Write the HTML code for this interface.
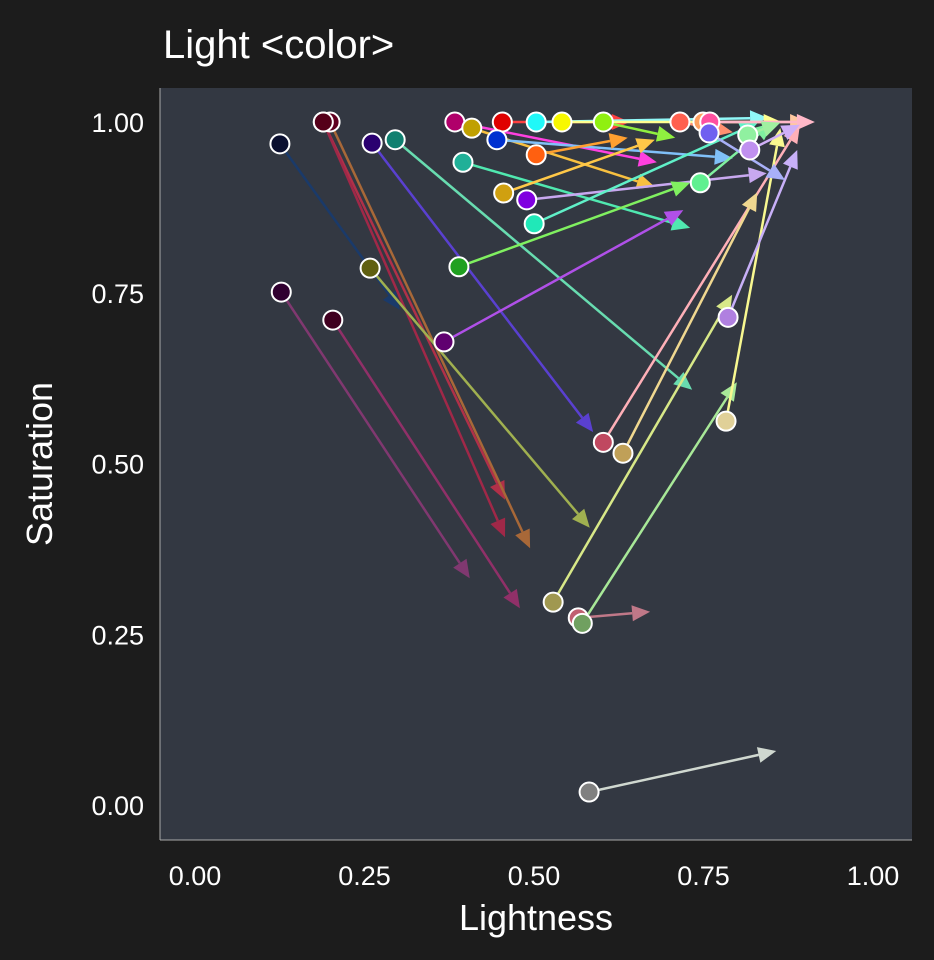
<!DOCTYPE html>
<html><head><meta charset="utf-8"><style>
html,body{margin:0;padding:0;background:#1c1c1c;}
svg{display:block;font-family:"Liberation Sans",sans-serif;}
</style></head><body>
<svg id="chart" width="934" height="960" xmlns="http://www.w3.org/2000/svg">
<rect x="0" y="0" width="934" height="960" fill="#1c1c1c"/>
<text x="163" y="58" fill="#ffffff" font-size="40">Light &lt;color&gt;</text>
<rect x="160" y="88" width="752" height="752" fill="#333842"/>
<line x1="160" y1="88" x2="160" y2="840" stroke="#aaaaaa" stroke-width="1"/>
<line x1="160" y1="840" x2="912" y2="840" stroke="#aaaaaa" stroke-width="1"/>
<g id="ticks"></g>
<g id="lines"></g>
<g id="points"></g>
<text x="536" y="930" fill="#ffffff" font-size="36" text-anchor="middle">Lightness</text>
<text transform="translate(52,464) rotate(-90)" fill="#ffffff" font-size="36" text-anchor="middle">Saturation</text>
</svg>
<script>
const tickValues=[0,0.25,0.5,0.75,1];
const tickLabels=["0.00","0.25","0.50","0.75","1.00"];
const startL=[.140,.204,.214,.204,.276,.310,.398,.423,.468,.460,.518,.556,.617,.518,.410,.470,.504,.515,.404,.273,.382,.142,.218,.580,.543,.586,.617,.646,.798,.801,.760,.730,.764,.774,.773,.830,.833,.596];
const startS=[.968,1.0,1.0,1.0,.969,.974,1.0,.991,1.0,.974,1.0,1.0,1.0,.952,.941,.896,.886,.851,.788,.786,.678,.751,.710,.274,.297,.266,.531,.515,.562,.714,.911,1.0,1.0,1.0,.984,.981,.959,.019];
const endL=[.317,.472,.509,.472,.602,.748,.696,.693,.656,.808,.860,.880,.723,.653,.745,.693,.858,.845,.745,.597,.735,.420,.494,.686,.807,.814,.907,.844,.878,.903,.867,.808,.919,.929,.885,.878,.907,.872];
const endS=[.725,.447,.376,.392,.546,.608,.941,.905,1.0,.947,1.006,1.0,.977,.977,.845,.974,.925,.999,.911,.406,.871,.332,.288,.283,.747,.619,.996,.897,.991,.959,.999,.985,1.0,1.0,.915,.999,.996,.079];
const pointColors=["#0b1030","#55001a","#600020","#55001a","#2a0070","#108070","#b0006a","#c0a000","#e00000","#0030d0","#20f8f8","#f8f800","#90f010","#ff6010","#20b098","#d0a010","#8000e0","#20e8b8","#20a020","#606010","#600070","#300030","#400020","#c06070","#a09850","#70a060","#c04860","#c0a058","#e0d098","#b080e0","#60f090","#ff6050","#ffa060","#ff50a0","#7060f0","#90f0a0","#c090f0","#808080"];
const lineColors=["#1a3a6a","#b03048","#a86838","#a02848","#5a40d0","#68dcb0","#ff40e0","#f8c040","#ff4040","#80c0f8","#90f8f8","#ffff90","#90f040","#ffa030","#50e8b0","#ffc848","#c8a8f0","#60f0c8","#80f060","#a0b050","#b050e8","#803870","#903068","#c07888","#d8e888","#a8e898","#ffb0b8","#f0d890","#f8f890","#c8b0f8","#80f0a0","#ff9070","#ffc8a0","#ffb8c8","#a8b0f8","#a0f0a0","#d0b0f8","#d0d8d0"];

const NS="http://www.w3.org/2000/svg";
function xs(v){return 185+v*678;}
function ys(v){return 805-v*683;}
const ticks=document.getElementById('ticks');
tickValues.forEach((v,i)=>{
  const tx=document.createElementNS(NS,'text');
  
  
  tx.setAttribute('x',xs(v)+10);tx.setAttribute('y',885);
  tx.setAttribute('fill','#fff');tx.setAttribute('font-size','27');tx.setAttribute('text-anchor','middle');
  tx.textContent=tickLabels[i];ticks.appendChild(tx);
  const ty=document.createElementNS(NS,'text');
  
  
  ty.setAttribute('x',144);ty.setAttribute('y',ys(v)+10);
  ty.setAttribute('fill','#fff');ty.setAttribute('font-size','27');ty.setAttribute('text-anchor','end');
  ty.textContent=tickLabels[i];ticks.appendChild(ty);
});
const lg=document.getElementById('lines');
const pg=document.getElementById('points');
for(let i=0;i<startL.length;i++){
  const x0=xs(startL[i]),y0=ys(startS[i]),x1=xs(endL[i]),y1=ys(endS[i]);
  const dx=x1-x0,dy=y1-y0,len=Math.hypot(dx,dy)||1,ux=dx/len,uy=dy/len;
  const hl=18,hw=8;
  const bx=x1-ux*hl,by=y1-uy*hl;
  const ln=document.createElementNS(NS,'line');
  
  
  ln.setAttribute('x1',x0);ln.setAttribute('y1',y0);ln.setAttribute('x2',bx);ln.setAttribute('y2',by);
  ln.setAttribute('stroke',lineColors[i]);ln.setAttribute('stroke-width','2.5');
  lg.appendChild(ln);
  const hd=document.createElementNS(NS,'polygon');
  
  
  hd.setAttribute('points',`${x1},${y1} ${bx-uy*hw},${by+ux*hw} ${bx+uy*hw},${by-ux*hw}`);
  hd.setAttribute('fill',lineColors[i]);
  lg.appendChild(hd);
  const c=document.createElementNS(NS,'circle');
  
  
  c.setAttribute('cx',x0);c.setAttribute('cy',y0);c.setAttribute('r','9.5');
  c.setAttribute('fill',pointColors[i]);c.setAttribute('stroke','#ffffff');c.setAttribute('stroke-width','2');
  pg.appendChild(c);
}
</script>
</body></html>
